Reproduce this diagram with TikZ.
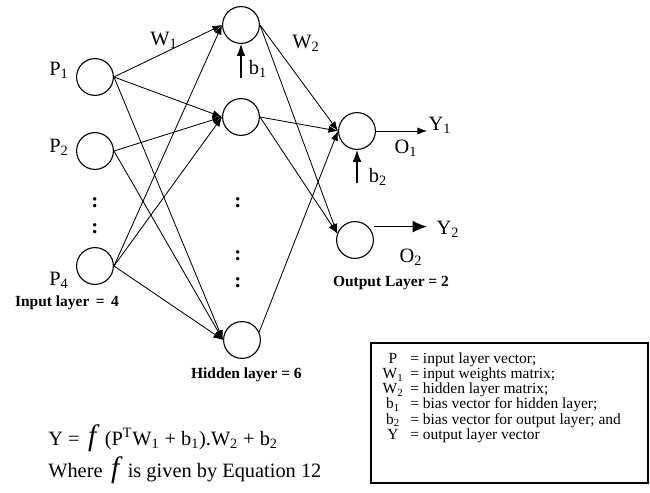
\documentclass[tikz,border=0pt]{standalone}
\usepackage{fontspec}
\setmainfont{Liberation Serif}
\usetikzlibrary{arrows.meta, positioning, calc}

% big italic f of the transfer function
\newcommand{\funcf}{{\fontsize{21}{21}\selectfont\itshape f}}

\begin{document}
\begin{tikzpicture}[
    every node/.style={font=\fontsize{14.5}{16}\selectfont, inner sep=1pt},
    neuron/.style={circle, draw, line width=0.8pt, minimum size=0.92cm, inner sep=0pt},
    arrow/.style={-{Latex[length=2.4mm, width=1.8mm]}, line width=0.6pt},
    bias/.style={-{Latex[length=3mm, width=2.2mm]}, line width=0.75pt},
    outarrow/.style={-{Latex[length=3.6mm, width=3mm]}, line width=1.2pt},
    layer/.style={font=\bfseries\fontsize{11}{12}\selectfont},
    dots/.style={font=\bfseries\fontsize{15}{16}\selectfont},
    legendbox/.style={rectangle, draw, line width=0.9pt, minimum width=6.925cm, minimum height=3.5cm}
]
\useasboundingbox (0, 0) rectangle (16.25, 12.325);

% ============ NEURONS ============
% Input layer
\node[neuron] (P1) at (2.375, 10.4) {};
\node[neuron] (P2) at (2.375, 8.55) {};
\node[neuron] (P4) at (2.375, 5.675) {};

% Hidden layer
\node[neuron] (H1) at (6.025, 11.7) {};
\node[neuron] (H2) at (6.025, 9.4) {};
\node[neuron] (H6) at (6.05, 3.825) {};

% Output layer
\node[neuron] (O1) at (8.925, 9.05) {};
\node[neuron] (O2) at (8.875, 6.325) {};

% Omitted neurons
\node[dots] (din1) at (2.375, 7.25) {:};
\node[dots] (din2) at (2.375, 6.6) {:};
\node[dots] (dhid1) at (5.95, 7.25) {:};
\node[dots] (dhid2) at (5.95, 5.925) {:};
\node[dots] (dhid3) at (5.95, 5.25) {:};

% ============ LABELS ============
\node (lP1) at (1.475, 10.575) {P\textsubscript{1}};
\node (lP2) at (1.475, 8.65) {P\textsubscript{2}};
\node (lP4) at (1.475, 5.325) {P\textsubscript{4}};
\node (lW1) at (4.1, 11.325) {W\textsubscript{1}};
\node (lW2) at (7.65, 11.25) {W\textsubscript{2}};
\node (lb1) at (6.45, 10.6) {b\textsubscript{1}};
\node (lb2) at (9.45, 7.9) {b\textsubscript{2}};
\node (lO1) at (10.15, 8.625) {O\textsubscript{1}};
\node (lO2) at (10.275, 5.9) {O\textsubscript{2}};
\node (Y1) at (11.0, 9.2) {Y\textsubscript{1}};
\node (Y2) at (11.2, 6.6) {Y\textsubscript{2}};

\node[layer] (inlayer) at (1.675, 4.75) {Input layer \,=\, 4};
\node[layer] (hidlayer) at (6.16, 2.95) {Hidden layer = 6};
\node[layer] (outlayer) at (9.775, 5.25) {Output Layer = 2};

% ============ CONNECTIONS ============
% Input to hidden
\draw[arrow] (P1.east) -- (H1.west);
\draw[arrow] (P1.east) -- (H2.west);
\draw[arrow] (P1.east) -- (H6.west);
\draw[arrow] (P2.east) -- (H2.west);
\draw[arrow] (P2.east) -- (H6.west);
\draw[arrow] (P4.east) -- (H1.west);
\draw[arrow] (P4.east) -- (H2.west);
\draw[arrow] (P4.east) -- (H6.west);

% Hidden to output
\draw[arrow] (H1.east) -- (O1.west);
\draw[arrow] (H1.east) -- (O2.160);
\draw[arrow] (H2.east) -- (O1.west);
\draw[arrow] (H2.east) -- (O2.160);
\draw[arrow] (H6.25) -- (O1.west);

% Biases
\coordinate (b1tail) at (6.025, 10.375);
\coordinate (b2tail) at (8.925, 7.75);
\draw[bias] (b1tail) -- (H1.south);
\draw[bias] (b2tail) -- (O1.south);

% Outputs
\draw[arrow] (O1.east) -- (O1.east -| Y1.west);
\draw[outarrow] ([xshift=0.15cm]O2.north east) -- ([xshift=-0.2cm]O2.north east -| Y2.west);

% ============ FORMULA ============
\node[anchor=west, inner sep=0pt] (formula) at (1.2, 1.375)
    {Y = \,\funcf\, (P\textsuperscript{T}W\textsubscript{1} + b\textsubscript{1}).W\textsubscript{2} + b\textsubscript{2}};
\node[anchor=west, inner sep=0pt] (where) at (1.2, 0.575)
    {Where \,\funcf\, is given by Equation 12};

% ============ LEGEND ============
\node[legendbox] (legend) at (12.7375, 2.0) {};
\node[anchor=north west, inner sep=0pt, font=\fontsize{11}{10.1}\selectfont] (legendtext)
    at ($(legend.north west) + (0.3, -0.26)$) {%
    \begin{tabular}[t]{@{}c@{\hspace{5pt}}l@{}}
    P & = input layer vector;\\
    W\textsubscript{1} & = input weights matrix;\\
    W\textsubscript{2} & = hidden layer matrix;\\
    b\textsubscript{1} & = bias vector for hidden layer;\\
    b\textsubscript{2} & = bias vector for output layer; and\\
    Y & = output layer vector
    \end{tabular}};

\end{tikzpicture}
\end{document}
